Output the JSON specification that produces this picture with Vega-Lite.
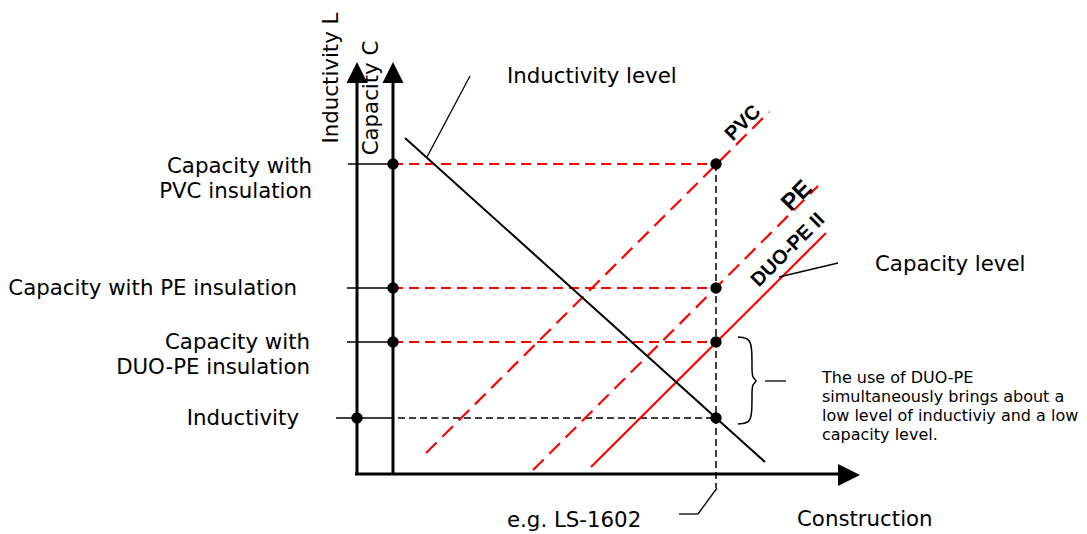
{
  "$schema": "https://vega.github.io/schema/vega-lite/v6.json",
  "width": 1087,
  "height": 534,
  "autosize": {"type": "fit", "contains": "padding"},
  "padding": 0,
  "background": "white",
  "config": {"view": {"stroke": null}},
  "datasets": {
    "segments": [
      {"x": 357, "y": 474, "x2": 357, "y2": 80, "kind": "axis"},
      {"x": 393, "y": 474, "x2": 393, "y2": 80, "kind": "axis"},
      {"x": 355, "y": 474, "x2": 840, "y2": 474, "kind": "axis"},
      {"x": 405, "y": 138, "x2": 765, "y2": 462, "kind": "inductivity"},
      {"x": 348, "y": 164, "x2": 393, "y2": 164, "kind": "tick"},
      {"x": 347, "y": 288, "x2": 393, "y2": 288, "kind": "tick"},
      {"x": 347, "y": 342, "x2": 393, "y2": 342, "kind": "tick"},
      {"x": 336, "y": 418, "x2": 387, "y2": 418, "kind": "tick"},
      {"x": 427, "y": 157, "x2": 470, "y2": 76, "kind": "leader"},
      {"x": 779, "y": 277, "x2": 838, "y2": 263, "kind": "leader"},
      {"x": 765, "y": 381, "x2": 786, "y2": 381, "kind": "leader"},
      {"x": 717, "y": 488, "x2": 698, "y2": 514, "kind": "leader"},
      {"x": 698, "y": 514, "x2": 679, "y2": 514, "kind": "leader"},
      {"x": 387, "y": 418, "x2": 716, "y2": 418, "kind": "guide"},
      {"x": 716, "y": 164, "x2": 716, "y2": 488, "kind": "guide"},
      {"x": 393, "y": 164, "x2": 716, "y2": 164, "kind": "capacity"},
      {"x": 393, "y": 288, "x2": 716, "y2": 288, "kind": "capacity"},
      {"x": 393, "y": 342, "x2": 716, "y2": 342, "kind": "capacity"},
      {"x": 426, "y": 453, "x2": 769, "y2": 112, "kind": "PVC"},
      {"x": 533, "y": 470, "x2": 818, "y2": 186, "kind": "PE"},
      {"x": 591, "y": 467, "x2": 826, "y2": 233, "kind": "DUO-PE II"}
    ],
    "brace": [
      {"i": 0, "x": 738, "y": 337},
      {"i": 1, "x": 750, "y": 338},
      {"i": 2, "x": 752, "y": 350},
      {"i": 3, "x": 752, "y": 368},
      {"i": 4, "x": 752, "y": 378},
      {"i": 5, "x": 758, "y": 381},
      {"i": 6, "x": 752, "y": 384},
      {"i": 7, "x": 752, "y": 394},
      {"i": 8, "x": 752, "y": 412},
      {"i": 9, "x": 750, "y": 423},
      {"i": 10, "x": 738, "y": 424}
    ],
    "arrowsUp": [
      {"x": 357, "y": 72.5, "axis": "Inductivity L"},
      {"x": 393, "y": 72.5, "axis": "Capacity C"}
    ],
    "arrowsRight": [
      {"x": 849, "y": 475, "axis": "Construction"}
    ],
    "dots": [
      {"x": 393, "y": 164}, {"x": 393, "y": 288}, {"x": 393, "y": 342},
      {"x": 357, "y": 418}, {"x": 716, "y": 164}, {"x": 716, "y": 288},
      {"x": 716, "y": 342}, {"x": 716, "y": 418}
    ],
    "labelsRight": [
      {"x": 312, "y": 167, "text": "Capacity with"},
      {"x": 312, "y": 192, "text": "PVC insulation"},
      {"x": 297, "y": 289, "text": "Capacity with PE insulation"},
      {"x": 310, "y": 343, "text": "Capacity with"},
      {"x": 310, "y": 368, "text": "DUO-PE insulation"},
      {"x": 299, "y": 419, "text": "Inductivity"}
    ],
    "labelsLeft": [
      {"x": 507, "y": 77, "text": "Inductivity level"},
      {"x": 875, "y": 265, "text": "Capacity level"},
      {"x": 797, "y": 520, "text": "Construction"},
      {"x": 507, "y": 521, "text": "e.g. LS-1602"}
    ],
    "note": [
      {"x": 822, "y": 378, "text": "The use of DUO-PE"},
      {"x": 822, "y": 397, "text": "simultaneously brings about a"},
      {"x": 822, "y": 416, "text": "low level of inductiviy and a low"},
      {"x": 822, "y": 435, "text": "capacity level."}
    ],
    "axisTitles": [
      {"x": 332, "y": 78, "text": "Inductivity L"},
      {"x": 372, "y": 98, "text": "Capacity C"}
    ],
    "lineLabels": [
      {"x": 743, "y": 123, "text": "PVC"},
      {"x": 788, "y": 250, "text": "DUO-PE II"}
    ],
    "lineLabelsLarge": [
      {"x": 797, "y": 196, "text": "PE"}
    ]
  },
  "encoding": {
    "x": {"field": "x", "type": "quantitative", "axis": null, "scale": {"domain": [0, 1087], "nice": false, "zero": false}},
    "y": {"field": "y", "type": "quantitative", "axis": null, "scale": {"domain": [0, 534], "reverse": true, "nice": false, "zero": false}}
  },
  "layer": [
    {
      "data": {"name": "segments"},
      "transform": [{"filter": "datum.kind === 'capacity'"}],
      "mark": {"type": "rule", "color": "#ff0000", "strokeWidth": 1.8, "strokeDash": [10, 6]},
      "encoding": {"x2": {"field": "x2"}, "y2": {"field": "y2"}}
    },
    {
      "data": {"name": "segments"},
      "transform": [{"filter": "datum.kind === 'guide'"}],
      "mark": {"type": "rule", "color": "#000000", "strokeWidth": 1.5, "strokeDash": [7, 4]},
      "encoding": {"x2": {"field": "x2"}, "y2": {"field": "y2"}}
    },
    {
      "data": {"name": "segments"},
      "transform": [{"filter": "datum.kind === 'PVC' || datum.kind === 'PE'"}],
      "mark": {"type": "rule", "color": "#ff0000", "strokeWidth": 2.2, "strokeDash": [15, 8]},
      "encoding": {"x2": {"field": "x2"}, "y2": {"field": "y2"}}
    },
    {
      "data": {"name": "segments"},
      "transform": [{"filter": "datum.kind === 'DUO-PE II'"}],
      "mark": {"type": "rule", "color": "#ff0000", "strokeWidth": 2.2},
      "encoding": {"x2": {"field": "x2"}, "y2": {"field": "y2"}}
    },
    {
      "data": {"name": "segments"},
      "transform": [{"filter": "datum.kind === 'axis'"}],
      "mark": {"type": "rule", "color": "#000000", "strokeWidth": 3},
      "encoding": {"x2": {"field": "x2"}, "y2": {"field": "y2"}}
    },
    {
      "data": {"name": "segments"},
      "transform": [{"filter": "datum.kind === 'inductivity'"}],
      "mark": {"type": "rule", "color": "#000000", "strokeWidth": 2},
      "encoding": {"x2": {"field": "x2"}, "y2": {"field": "y2"}}
    },
    {
      "data": {"name": "segments"},
      "transform": [{"filter": "datum.kind === 'tick'"}],
      "mark": {"type": "rule", "color": "#000000", "strokeWidth": 1.5},
      "encoding": {"x2": {"field": "x2"}, "y2": {"field": "y2"}}
    },
    {
      "data": {"name": "segments"},
      "transform": [{"filter": "datum.kind === 'leader'"}],
      "mark": {"type": "rule", "color": "#000000", "strokeWidth": 1.3},
      "encoding": {"x2": {"field": "x2"}, "y2": {"field": "y2"}}
    },
    {
      "data": {"name": "brace"},
      "mark": {"type": "line", "color": "#000000", "strokeWidth": 1.5, "interpolate": "basis"},
      "encoding": {"order": {"field": "i", "type": "quantitative"}}
    },
    {
      "data": {"name": "arrowsUp"},
      "mark": {"type": "point", "shape": "M0,-1L1,1L-1,1Z", "filled": true, "color": "#000000", "opacity": 1, "size": 441, "strokeWidth": 0}
    },
    {
      "data": {"name": "arrowsRight"},
      "mark": {"type": "point", "shape": "M1,0L-1,-1L-1,1Z", "filled": true, "color": "#000000", "opacity": 1, "size": 484, "strokeWidth": 0}
    },
    {
      "data": {"name": "dots"},
      "mark": {"type": "circle", "color": "#000000", "opacity": 1, "size": 130}
    },
    {
      "data": {"name": "labelsRight"},
      "mark": {"type": "text", "align": "right", "baseline": "middle", "font": "DejaVu Sans", "fontSize": 21.3, "color": "#000000"},
      "encoding": {"text": {"field": "text"}}
    },
    {
      "data": {"name": "labelsLeft"},
      "mark": {"type": "text", "align": "left", "baseline": "middle", "font": "DejaVu Sans", "fontSize": 21.3, "color": "#000000"},
      "encoding": {"text": {"field": "text"}}
    },
    {
      "data": {"name": "note"},
      "mark": {"type": "text", "align": "left", "baseline": "middle", "font": "DejaVu Sans", "fontSize": 16, "color": "#000000"},
      "encoding": {"text": {"field": "text"}}
    },
    {
      "data": {"name": "axisTitles"},
      "mark": {"type": "text", "align": "center", "baseline": "middle", "angle": 270, "font": "DejaVu Sans", "fontSize": 21.3, "color": "#000000"},
      "encoding": {"text": {"field": "text"}}
    },
    {
      "data": {"name": "lineLabels"},
      "mark": {"type": "text", "align": "center", "baseline": "middle", "angle": 315, "font": "Liberation Sans", "fontWeight": "bold", "fontSize": 20, "color": "#000000"},
      "encoding": {"text": {"field": "text"}}
    },
    {
      "data": {"name": "lineLabelsLarge"},
      "mark": {"type": "text", "align": "center", "baseline": "middle", "angle": 315, "font": "Liberation Sans", "fontWeight": "bold", "fontSize": 24, "color": "#000000"},
      "encoding": {"text": {"field": "text"}}
    }
  ]
}
